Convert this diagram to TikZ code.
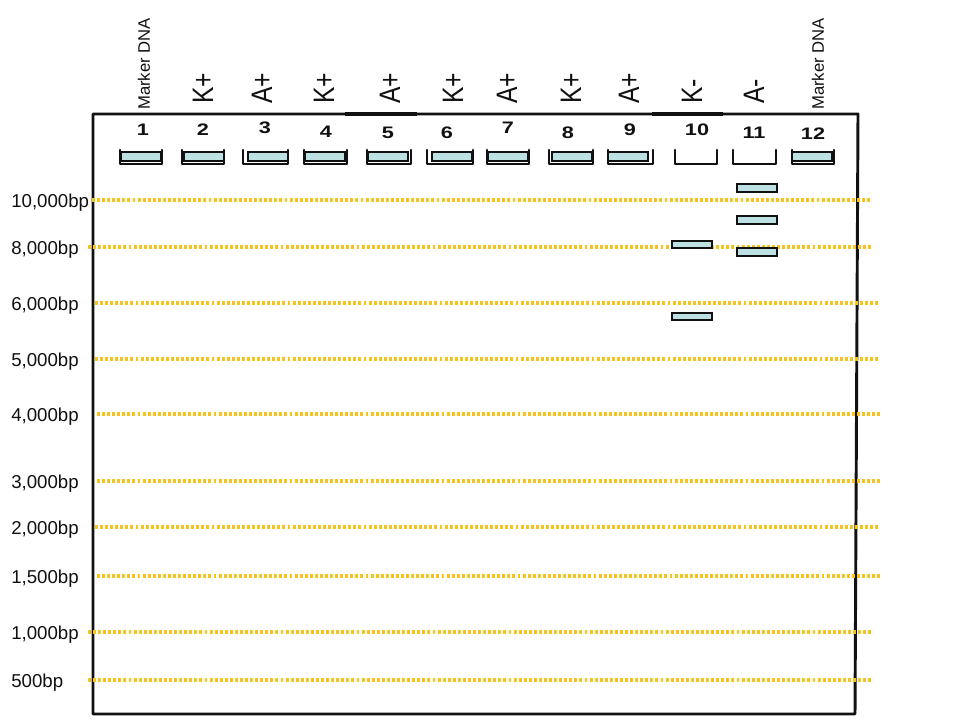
\documentclass[tikz,border=0pt]{standalone}
\usepackage{fontspec}
\setmainfont{Liberation Sans}
\usepackage{graphicx}
\usepackage{xcolor}
\usepackage{tikz}
\definecolor{bg}{HTML}{FFFFFF}
\definecolor{ink}{HTML}{111111}
\definecolor{gold}{HTML}{F8C31C}
\definecolor{dye}{HTML}{BDE0E3}
\tikzset{
  gel/.style={draw=ink, line width=2.2pt, line join=round},
  well/.style={draw=ink, line width=2pt, line cap=round, line join=round},
  band/.style={draw=ink, fill=dye, line width=0.9pt},
  ruler/.style={draw=gold, line width=2.6pt, dash pattern=on 2.2pt off 1.6pt},
  lab/.style={text=ink, font=\fontsize{14}{16}\selectfont, inner sep=0pt, anchor=west},
  labnum/.style={text=ink, font=\fontsize{12.5}{14}\selectfont\bfseries, inner sep=0pt},
  labtop/.style={text=ink, font=\fontsize{18.5}{20}\selectfont, inner sep=0pt, anchor=west, rotate=90},
  labmark/.style={text=ink, font=\fontsize{12.5}{14}\selectfont, inner sep=0pt, anchor=west, rotate=90}
}

\begin{document}
\begin{tikzpicture}[x=0.75pt, y=-0.75pt]
  \fill[bg] (0,0) rectangle (960,720);
  \useasboundingbox (0,0) rectangle (960,720);
  % gel outline
  \draw[gel] (93,114) -- (93,714) -- (855,714) -- (858,114) -- cycle;
  \draw[ink, line width=3.2pt] (345,114) -- (417,114);
  \draw[ink, line width=3.2pt] (652,114) -- (723,114);
  % wells
  \foreach \n/\l/\r in {1/120/162, 2/182/224, 3/243/288, 4/304/347, 5/367/411, 6/427/473,
                        7/487/529, 8/549/593, 9/608/653, 10/675/717, 11/733/776, 12/792/834}
    \draw[well] (\l,150) -- (\l,164) -- (\r,164) -- (\r,150);
  \foreach \b in {121,184,248,305,368,432,488,552,608,792}
    \draw[band] (\b,152) rectangle ++(40,9);
  % lane numbers
  \foreach \n/\x/\y in {1/143/130, 2/203/130, 3/265/128, 4/326/132, 5/388/133, 6/447/133,
                        7/508/128, 8/568/133, 9/630/130, 10/697/130, 11/754/133, 12/813/134}
    \node[labnum] (num\n) at (\x,\y) {\scalebox{1.3}[1]{\n}};
  % samples
  \foreach \n/\x/\t in {2/203/K+, 3/262/A+, 4/324/K+, 5/390/A+, 6/453/K+,
                        7/507/A+, 8/571/K+, 9/629/A+, 10/692/K-, 11/754/A-}
    \node[labtop] (smp\n) at (\x,104) {\scalebox{1}[1.2]{\t}};
  \node[labmark] (mark1) at (144,110) {Marker DNA};
  \node[labmark] (mark12) at (818,110) {Marker DNA};
  % size ladder
  \foreach \n/\y/\a/\b/\t in {1/200/92/872/{10,000bp}, 2/247/88/872/{8,000bp},
                              3/303/95/880/{6,000bp}, 4/359/95/880/{5,000bp},
                              5/414/97/880/{4,000bp}, 6/481/97/880/{3,000bp},
                              7/527/95/880/{2,000bp}, 8/576/97/880/{1,500bp},
                              9/632/88/872/{1,000bp}, 10/680/88/872/{500bp}} {
    \draw[ruler] (\a,\y) -- (\b,\y);
    \node[lab] (bp\n) at (11,\y+3) {\t};
  }
  % bands
  \draw[band] (672,241) rectangle (712,248);
  \draw[band] (672,313) rectangle (712,320);
  \draw[band] (737,184) rectangle (777,192);
  \draw[band] (737,216) rectangle (777,224);
  \draw[band] (737,248) rectangle (777,256);
\end{tikzpicture}
\end{document}
